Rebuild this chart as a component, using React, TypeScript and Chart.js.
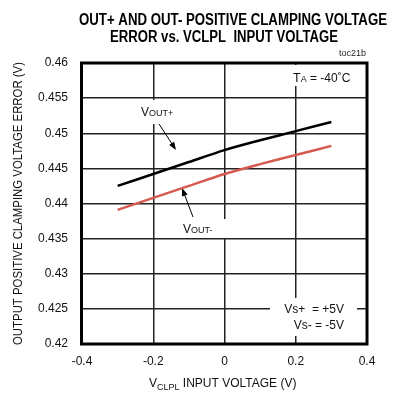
import React, { useEffect, useRef } from "react";
import { Chart, registerables } from "chart.js";

Chart.register(...registerables);

const xValues = [-0.3, -0.2, -0.1, 0, 0.1, 0.2, 0.3];
const voutPlus = [0.4425, 0.4442, 0.4459, 0.4476, 0.449, 0.4503, 0.4516];
const voutMinus = [0.4391, 0.4408, 0.4425, 0.4442, 0.4456, 0.4469, 0.4482];
const xTicks = [-0.4, -0.2, 0, 0.2, 0.4];
const yTicks = [0.42, 0.425, 0.43, 0.435, 0.44, 0.445, 0.45, 0.455, 0.46];

const FONT = '"Liberation Sans", Arial, sans-serif';

function subText(ctx: CanvasRenderingContext2D, parts: [string, number][], x: number, y: number) {
  let cx = x;
  for (const [t, size] of parts) {
    ctx.font = `${size}px ${FONT}`;
    ctx.fillText(t, cx, y);
    cx += ctx.measureText(t).width;
  }
}

function arrow(ctx: CanvasRenderingContext2D, x1: number, y1: number, x2: number, y2: number) {
  const ang = Math.atan2(y2 - y1, x2 - x1);
  const len = 8, w = 3;
  ctx.strokeStyle = "#000";
  ctx.lineWidth = 1;
  ctx.beginPath();
  ctx.moveTo(x1, y1);
  ctx.lineTo(x2 - Math.cos(ang) * len * 0.8, y2 - Math.sin(ang) * len * 0.8);
  ctx.stroke();
  ctx.fillStyle = "#000";
  ctx.beginPath();
  ctx.moveTo(x2, y2);
  ctx.lineTo(x2 - Math.cos(ang) * len - Math.sin(ang) * w, y2 - Math.sin(ang) * len + Math.cos(ang) * w);
  ctx.lineTo(x2 - Math.cos(ang) * len + Math.sin(ang) * w, y2 - Math.sin(ang) * len - Math.cos(ang) * w);
  ctx.closePath();
  ctx.fill();
}

const decorPlugin = {
  id: "decor",
  beforeDatasetsDraw(chart: any) {
    const ctx: CanvasRenderingContext2D = chart.ctx;
    const a = chart.chartArea;
    ctx.save();
    // white label boxes
    ctx.fillStyle = "#fff";
    ctx.fillRect(288, 65, 64, 21);
    ctx.fillRect(137, 100, 40, 24);
    ctx.fillRect(178, 219, 50, 19);
    ctx.fillRect(270, 298, 87, 38);
    // frame
    ctx.strokeStyle = "#000";
    ctx.lineWidth = 3;
    ctx.strokeRect(a.left - 0.5, a.top, a.right - a.left + 0.5, a.bottom - a.top);
    // labels
    ctx.fillStyle = "#111";
    ctx.textBaseline = "alphabetic";
    ctx.textAlign = "left";
    subText(ctx, [["T", 12.5], ["A", 9], [" = -40\u02DAC", 12]], 293, 82);
    subText(ctx, [["V", 12], ["OUT+", 9]], 141, 116);
    subText(ctx, [["V", 12], ["OUT-", 9]], 183, 233);
    ctx.font = `12px ${FONT}`;
    ctx.textAlign = "right";
    ctx.fillText("Vs+  = +5V", 344, 313);
    ctx.fillText("Vs- = -5V", 344, 329);
    arrow(ctx, 159, 124, 176, 150);
    arrow(ctx, 193, 217, 182, 188);
    ctx.restore();
  },
  afterDraw(chart: any) {
    const ctx: CanvasRenderingContext2D = chart.ctx;
    const a = chart.chartArea;
    ctx.save();
    ctx.fillStyle = "#000";
    ctx.textAlign = "center";
    ctx.textBaseline = "alphabetic";
    ctx.font = `bold 16px ${FONT}`;
    ctx.fillText("OUT+ AND OUT- POSITIVE CLAMPING VOLTAGE", 233, 25, 308);
    ctx.fillText("ERROR vs. VCLPL  INPUT VOLTAGE", 224, 42, 228);
    ctx.font = `9px ${FONT}`;
    ctx.textAlign = "right";
    ctx.fillStyle = "#222";
    ctx.fillText("toc21b", 366, 56);
    // y title
    ctx.save();
    ctx.translate(22, (a.top + a.bottom) / 2);
    ctx.rotate(-Math.PI / 2);
    ctx.textAlign = "center";
    ctx.font = `12px ${FONT}`;
    ctx.fillStyle = "#111";
    ctx.fillText("OUTPUT POSITIVE CLAMPING VOLTAGE ERROR (V)", 0, 0, 283);
    ctx.restore();
    // x title
    ctx.textAlign = "left";
    ctx.fillStyle = "#111";
    ctx.font = `12px ${FONT}`;
    ctx.fillText("V", 149, 387);
    const vw = ctx.measureText("V").width;
    ctx.font = `9px ${FONT}`;
    ctx.fillText("CLPL", 149 + vw, 390);
    const cw = ctx.measureText("CLPL").width;
    ctx.font = `12px ${FONT}`;
    ctx.fillText(" INPUT VOLTAGE (V)", 149 + vw + cw, 387);
    ctx.restore();
  },
};

const fmt = (v: any) => parseFloat(Number(v).toFixed(3)).toString();

export default function App() {
  const ref = useRef<HTMLCanvasElement | null>(null);
  useEffect(() => {
    if (!ref.current) return;
    const chart = new Chart(ref.current, {
      type: "scatter",
      data: {
        datasets: [
          {
            label: "VOUT+",
            data: xValues.map((x, i) => ({ x, y: voutPlus[i] })),
            showLine: true,
            borderColor: "#000",
            borderWidth: 2.5,
            pointRadius: 0,
            tension: 0.3,
          },
          {
            label: "VOUT-",
            data: xValues.map((x, i) => ({ x, y: voutMinus[i] })),
            showLine: true,
            borderColor: "#d65a50",
            borderWidth: 2.5,
            pointRadius: 0,
            tension: 0.3,
          },
        ],
      },
      options: {
        responsive: false,
        animation: false,
        layout: { padding: { top: 63, right: 29, left: 0, bottom: 0 } },
        plugins: { legend: { display: false }, tooltip: { enabled: false }, title: { display: false } },
        scales: {
          x: {
            type: "linear",
            min: -0.4,
            max: 0.4,
            afterBuildTicks: (s: any) => { s.ticks = xTicks.map((v) => ({ value: v })); },
            afterFit: (s: any) => { s.height = 50; },
            ticks: { callback: fmt, padding: 10, color: "#111", font: { family: FONT, size: 12 }, maxRotation: 0 },
            grid: { color: "#222", lineWidth: 1.5, drawTicks: false },
            border: { display: false },
          },
          y: {
            type: "linear",
            min: 0.42,
            max: 0.46,
            afterBuildTicks: (s: any) => { s.ticks = yTicks.map((v) => ({ value: v })); },
            afterFit: (s: any) => { s.width = 82; },
            ticks: { callback: fmt, padding: 14, color: "#111", font: { family: FONT, size: 12 } },
            grid: { color: "#222", lineWidth: 1.5, drawTicks: false },
            border: { display: false },
          },
        },
      },
      plugins: [decorPlugin],
    } as any);
    return () => chart.destroy();
  }, []);
  return (
    <div style={{ position: "fixed", left: 0, top: 0, width: 396, height: 394, background: "#fff" }}>
      <canvas ref={ref} width={396} height={394} />
    </div>
  );
}
